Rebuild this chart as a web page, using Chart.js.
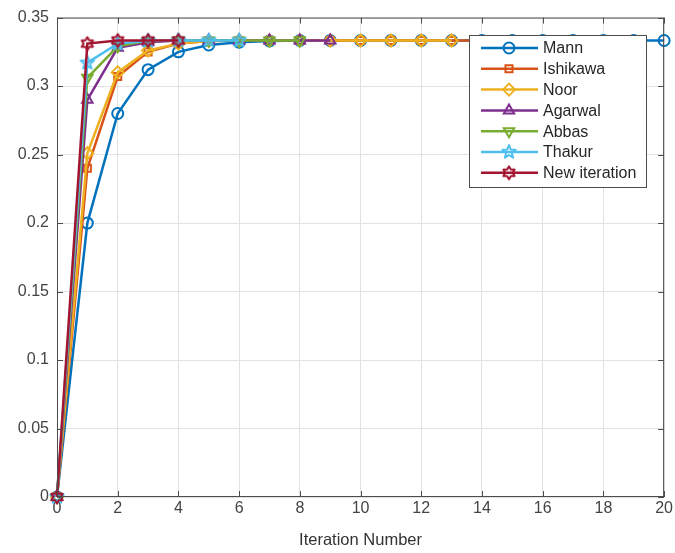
<!DOCTYPE html>
<html>
<head>
<meta charset="utf-8">
<script src="https://cdn.jsdelivr.net/npm/chart.js@4.4.0/dist/chart.umd.min.js"></script>
<style>
html,body{margin:0;padding:0;background:#fff;}
#wrap{width:675px;height:553px;}
</style>
</head>
<body>
<div id="wrap"><canvas id="c" width="675" height="553"></canvas></div>
<script>
// ---- data ----
const iterations = [0,1,2,3,4,5,6,7,8,9,10,11,12,13,14,15,16,17,18,19,20];
const seriesNames = ["Mann","Ishikawa","Noor","Agarwal","Abbas","Thakur","New iteration"];
const mann     = [0,0.200,0.280,0.312,0.325,0.330,0.332,0.333,0.3333,0.3333,0.3333,0.3333,0.3333,0.3333,0.3333,0.3333,0.3333,0.3333,0.3333,0.3333,0.3333];
const ishikawa = [0,0.240,0.307,0.325,0.331,0.333,0.3333,0.3333,0.3333,0.3333,0.3333,0.3333,0.3333,0.3333,0.3333,0.3333];
const noor     = [0,0.251,0.310,0.326,0.331,0.333,0.3333,0.3333,0.3333,0.3333,0.3333,0.3333,0.3333,0.3333];
const agarwal  = [0,0.290,0.328,0.332,0.3333,0.3333,0.3333,0.3333,0.3333,0.3333];
const abbas    = [0,0.306,0.329,0.333,0.3333,0.3333,0.3333,0.3333,0.3333];
const thakur   = [0,0.317,0.331,0.333,0.3333,0.3333,0.3333];
const newIter  = [0,0.331,0.3333,0.3333,0.3333];
const xTicks = [0,2,4,6,8,10,12,14,16,18,20];
const yTicks = [0,0.05,0.1,0.15,0.2,0.25,0.3,0.35];

const colors = ["#0072BD","#D95319","#EDB120","#7E2F8E","#77AC30","#4DBEEE","#A2142F"];

function starCanvas(color, n, outerR, innerR){
  const s = 18, c = document.createElement('canvas');
  c.width = s; c.height = s;
  const g = c.getContext('2d');
  g.strokeStyle = color; g.lineWidth = 2; g.lineJoin='round';
  g.beginPath();
  for(let i=0;i<2*n;i++){
    const r = i%2===0?outerR:innerR;
    const a = -Math.PI/2 + i*Math.PI/n;
    const x = s/2 + r*Math.cos(a), y = s/2 + r*Math.sin(a);
    if(i===0) g.moveTo(x,y); else g.lineTo(x,y);
  }
  g.closePath(); g.stroke();
  return c;
}
const pentagram = starCanvas(colors[5],5,7,3);
const hexagram  = starCanvas(colors[6],6,6.5,3.8);

const styles = [
  {ps:'circle', rot:0, r:5.5},
  {ps:'rect', rot:0, r:5},
  {ps:'rectRot', rot:0, r:6},
  {ps:'triangle', rot:0, r:6},
  {ps:'triangle', rot:180, r:6},
  {ps:pentagram, rot:0, r:6},
  {ps:hexagram, rot:0, r:6}
];
const allSeries = [mann,ishikawa,noor,agarwal,abbas,thakur,newIter];

const datasets = allSeries.map((vals,i)=>({
  label: seriesNames[i],
  data: vals.map((v,k)=>({x: iterations[k], y: v})),
  borderColor: colors[i],
  backgroundColor: 'rgba(255,255,255,0)',
  borderWidth: 2.5,
  pointStyle: styles[i].ps,
  pointRotation: styles[i].rot,
  pointRadius: styles[i].r,
  pointBorderWidth: 2,
  pointBorderColor: colors[i],
  pointBackgroundColor: 'rgba(255,255,255,0)',
  tension: 0,
  clip: false,
  order: 7 - i
}));

const FONT = "'Liberation Sans', Arial, Helvetica, sans-serif";

const framePlugin = {
  id:'frame',
  afterDraw(chart){
    const {ctx, chartArea:a, scales} = chart;
    ctx.save();
    ctx.strokeStyle = '#4d4d4d'; ctx.lineWidth = 1;
    ctx.strokeRect(a.left+0.5, a.top+0.5, a.right-a.left-1, a.bottom-a.top-1);
    ctx.beginPath();
    xTicks.forEach(t=>{
      const px = Math.round(scales.x.getPixelForValue(t))+0.5;
      ctx.moveTo(px,a.bottom); ctx.lineTo(px,a.bottom-6);
      ctx.moveTo(px,a.top); ctx.lineTo(px,a.top+6);
    });
    yTicks.forEach(t=>{
      const py = Math.round(scales.y.getPixelForValue(t))+0.5;
      ctx.moveTo(a.left,py); ctx.lineTo(a.left+6,py);
      ctx.moveTo(a.right,py); ctx.lineTo(a.right-6,py);
    });
    ctx.stroke();

    // legend
    const L = {x:469, y:35, w:177, h:152};
    ctx.fillStyle = '#fff';
    ctx.fillRect(L.x, L.y, L.w, L.h);
    ctx.strokeStyle = '#4d4d4d';
    ctx.strokeRect(L.x+0.5, L.y+0.5, L.w, L.h);
    ctx.font = "16px " + FONT;
    ctx.textBaseline = 'middle';
    ctx.textAlign = 'left';
    chart.data.datasets.forEach((ds,i)=>{
      const y = 48 + i*20.8;
      ctx.strokeStyle = ds.borderColor; ctx.lineWidth = 2.5;
      ctx.beginPath(); ctx.moveTo(481,y); ctx.lineTo(538,y); ctx.stroke();
      ctx.lineWidth = 2;
      ctx.fillStyle = 'rgba(255,255,255,0)';
      ctx.strokeStyle = ds.borderColor;
      Chart.helpers.drawPoint(ctx, {pointStyle: ds.pointStyle, rotation: ds.pointRotation, radius: ds.pointRadius, borderWidth:2}, 509, y);
      ctx.fillStyle = '#262626';
      ctx.fillText(ds.label, 543, y+1);
    });
    ctx.restore();
  }
};

new Chart(document.getElementById('c'), {
  type:'line',
  data:{datasets},
  plugins:[framePlugin],
  options:{
    responsive:false,
    animation:false,
    layout:{padding:{left:0,right:8,top:17,bottom:0}},
    plugins:{legend:{display:false}, tooltip:{enabled:false}},
    elements:{point:{hoverRadius:6}},
    scales:{
      x:{
        type:'linear', min:0, max:20,
        afterFit(s){ s.height = 56; },
        afterBuildTicks(s){ s.ticks = xTicks.map(v=>({value:v})); },
        ticks:{font:{size:16,family:FONT}, color:'#444', padding:2, maxRotation:0, callback:v=>String(v)},
        grid:{color:'#e2e2e2', drawTicks:false},
        border:{display:false},
        title:{display:true, text:'Iteration Number', font:{size:16.5,family:FONT}, color:'#333', padding:{top:0,bottom:3}}
      },
      y:{
        type:'linear', min:0, max:0.35,
        afterFit(s){ s.width = 57; },
        afterBuildTicks(s){ s.ticks = yTicks.map(v=>({value:v})); },
        ticks:{font:{size:16,family:FONT}, color:'#444', padding:8, callback:v=>String(Math.round(v*100)/100)},
        grid:{color:'#e2e2e2', drawTicks:false},
        border:{display:false}
      }
    }
  }
});
</script>
</body>
</html>
